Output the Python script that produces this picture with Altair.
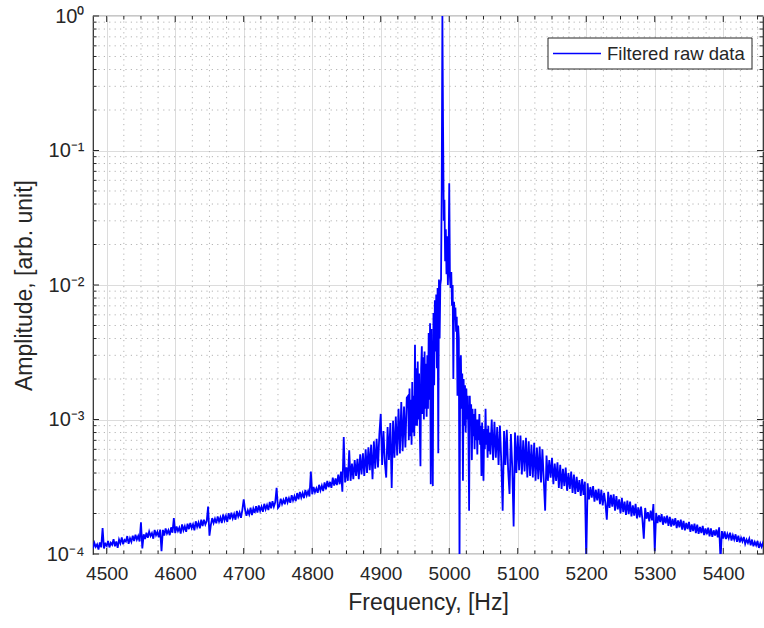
import altair as alt
import pandas as pd

# ---------------- data (amplitudes in units of 1e-4) ----------
UNIT = 1e-4

# segment A: 4480 .. 4938 Hz, every 2 Hz (left tail)
F_A = list(range(4480, 4939, 2))
AMP_A = [1.10, 1.21, 1.13, 1.18, 1.08, 1.22, 1.12, 1.56, 1.10, 1.19,
         1.15, 1.25, 1.12, 1.21, 1.17, 1.29, 1.14, 1.24, 1.11, 1.28,
         1.20, 1.33, 1.18, 1.27, 1.24, 1.36, 1.19, 1.31, 1.23, 1.37,
         1.25, 1.39, 1.28, 1.36, 1.24, 1.72, 1.10, 1.40, 1.29, 1.44,
         1.32, 1.47, 1.36, 1.43, 1.30, 1.51, 1.38, 1.46, 1.33, 1.52,
         1.05, 1.51, 1.37, 1.55, 1.42, 1.50, 1.38, 1.58, 1.44, 1.85,
         1.43, 1.60, 1.48, 1.57, 1.42, 1.66, 1.50, 1.61, 1.46, 1.68,
         1.53, 1.70, 1.56, 1.66, 1.50, 1.75, 1.59, 1.71, 1.55, 1.80,
         1.61, 1.80, 1.66, 1.76, 2.25, 1.37, 1.64, 1.85, 1.70, 1.83,
         1.69, 1.90, 1.74, 1.87, 1.70, 1.97, 1.78, 1.92, 1.73, 2.01,
         1.81, 2.03, 1.84, 1.98, 1.80, 2.09, 1.90, 2.04, 1.86, 2.13,
         2.55, 2.14, 1.92, 2.11, 1.97, 2.21, 1.95, 2.18, 2.02, 2.27,
         2.03, 2.30, 2.09, 2.25, 2.06, 2.36, 2.15, 2.31, 2.12, 2.44,
         2.19, 2.47, 2.25, 2.42, 3.10, 2.20, 2.27, 2.58, 2.35, 2.52,
         2.34, 2.66, 2.42, 2.60, 2.40, 2.74, 2.50, 2.69, 2.47, 2.84,
         2.55, 2.89, 2.63, 2.84, 2.60, 2.99, 2.72, 2.93, 2.68, 4.10,
         2.78, 3.15, 2.88, 3.08, 2.85, 3.27, 2.97, 3.22, 2.94, 3.40,
         3.03, 3.50, 3.14, 3.44, 3.10, 3.70, 3.22, 3.64, 3.25, 3.90,
         3.30, 4.10, 2.90, 7.40, 3.40, 4.40, 3.50, 5.90, 3.50, 4.70,
         3.60, 5.00, 3.80, 5.10, 3.60, 5.50, 3.90, 5.60, 3.80, 6.00,
         4.00, 6.20, 4.20, 6.50, 3.60, 6.90, 4.30, 7.20, 4.40, 7.80,
         11.0, 4.60, 8.20, 4.80, 3.70, 8.80, 5.00, 9.40, 3.10, 9.80,
         5.20, 10.5, 5.40, 12.0, 5.60, 13.5, 5.80, 12.5, 6.20, 14.5]

# segment B: 4940 .. 5060 Hz, every 1 Hz (resonance)
F_B = list(range(4940, 5061, 1))
AMP_B = [15, 7, 17, 7.5, 14, 6.5, 19, 8, 15, 7.5,
         36, 9, 24, 9, 27, 10, 22, 8.5, 4.5, 24,
         35, 11, 29, 10, 32, 12, 26, 10.5, 30, 12,
         44, 14, 52, 3.3, 47, 15, 3.2, 62, 18, 77,
         32, 85, 24, 95, 5.6, 110, 40, 100,
         110, 500, 10000, 1500, 300, 430, 150, 260, 120, 230, 100, 160,
         570, 115, 95, 125, 70, 100, 20, 75, 55, 68,
         45, 58, 15, 50, 40, 0.8, 25, 30, 12, 22,
         3.5, 20, 9, 18, 8, 17, 10, 15, 8, 2.1,
         15, 9, 13, 5, 12, 7.5, 11, 6, 12, 7,
         10, 5.5, 10, 7, 11, 6.5, 9, 3.8, 9.5, 6,
         3.5, 8.5, 6, 12, 6.5, 8.5, 5.2, 9, 5.8, 8, 5.5]

# segment C: 5062 .. 5460 Hz, every 2 Hz (right tail)
F_C = list(range(5062, 5461, 2))
AMP_C = [10.0, 5.0, 9.6, 5.2, 8.8, 4.6, 9.0, 4.8, 2.1, 8.2,
         4.6, 8.4, 4.2, 2.8, 7.8, 4.4, 1.6, 8.0, 4.0, 7.6,
         4.2, 7.6, 3.9, 7.0, 4.1, 7.3, 3.7, 6.9, 3.8, 6.5,
         3.7, 6.7, 3.5, 6.2, 3.6, 6.3, 3.4, 6.0, 3.5, 2.1,
         5.4, 3.5, 5.0, 3.7, 5.2, 3.3, 4.7, 3.5, 4.8, 3.1,
         4.6, 3.05, 4.3, 3.2, 4.4, 2.95, 4.0, 3.05, 4.1, 2.85,
         3.9, 2.8, 3.75, 2.9, 3.55, 2.7, 3.6, 2.75, 3.45, 0.9,
         3.35, 2.55, 3.15, 2.62, 3.2, 2.45, 3.0, 2.5, 3.05, 2.35,
         3.0, 2.3, 2.85, 2.38, 1.8, 2.9, 2.2, 2.75, 2.25, 2.78,
         2.1, 2.7, 2.15, 2.55, 2.0, 2.62, 2.05, 2.45, 1.95, 2.5,
         1.98, 2.45, 1.9, 2.3, 1.93, 2.36, 1.84, 2.22, 1.87, 2.25,
         1.8, 1.3, 2.2, 1.83, 2.05, 1.75, 2.1, 1.78, 2.35, 1.05,
         2.02, 1.7, 1.94, 1.73, 1.98, 1.65, 1.9, 1.69, 1.93, 1.62,
         1.89, 1.6, 1.82, 1.63, 1.85, 1.56, 1.78, 1.58, 1.8, 1.52,
         1.76, 1.5, 1.7, 1.53, 1.73, 1.46, 1.66, 1.48, 1.68, 1.43,
         1.65, 1.41, 1.59, 1.43, 1.62, 1.38, 1.55, 1.4, 1.57, 1.35,
         1.55, 1.34, 1.5, 1.37, 1.52, 1.33, 1.58, 0.9, 1.48, 1.3,
         1.47, 1.29, 1.41, 1.31, 1.44, 1.26, 1.38, 1.28, 1.4, 1.23,
         1.37, 1.22, 1.32, 1.24, 1.34, 1.19, 1.28, 1.21, 1.3, 1.16,
         1.28, 1.14, 1.23, 1.16, 1.25, 1.11, 1.2, 1.13, 1.21, 1.09]

SERIES = "Filtered raw data"

# axis ticks
X_MAJOR = [4500, 4600, 4700, 4800, 4900, 5000, 5100, 5200, 5300, 5400]
X_MINOR = [4525, 4550, 4575, 4625, 4650, 4675, 4725, 4750, 4775, 4825, 4850, 4875,
           4925, 4950, 4975, 5025, 5050, 5075, 5125, 5150, 5175, 5225, 5250, 5275,
           5325, 5350, 5375, 5425, 5450]
Y_MAJOR = [1e-4, 1e-3, 1e-2, 1e-1, 1.0]
Y_MINOR = [2e-4, 3e-4, 4e-4, 5e-4, 6e-4, 7e-4, 8e-4, 9e-4,
           2e-3, 3e-3, 4e-3, 5e-3, 6e-3, 7e-3, 8e-3, 9e-3,
           2e-2, 3e-2, 4e-2, 5e-2, 6e-2, 7e-2, 8e-2, 9e-2,
           0.2, 0.3, 0.4, 0.5, 0.6, 0.7, 0.8, 0.9]

# ---------------- layout ----------------
W, H = 670, 538
X_DOMAIN = [4480, 5458]
FONT = "Liberation Sans"
TXT = "#262626"

df = pd.DataFrame({
    "f": F_A + F_B + F_C,
    "amp": [v * UNIT for v in AMP_A + AMP_B + AMP_C],
})
df["series"] = SERIES

xscale = alt.Scale(domain=X_DOMAIN, nice=False, zero=False)
yscale = alt.Scale(type="log", domain=[1e-4, 1.0], nice=False)

xaxis = alt.Axis(values=X_MAJOR, format="d", grid=True, gridColor="#dcdcdc", gridWidth=1,
                 ticks=False, domain=False, labelFont=FONT, labelFontSize=19,
                 labelColor=TXT, labelPadding=10, title="Frequency, [Hz]",
                 titleFont=FONT, titleFontSize=23, titleFontWeight="normal",
                 titleColor=TXT, titlePadding=8)
label_expr = ("datum.value >= 0.5 ? '10\u2070' : datum.value >= 0.05 ? '10\u207b\u00b9' : "
              "datum.value >= 0.005 ? '10\u207b\u00b2' : datum.value >= 0.0005 ? '10\u207b\u00b3' : '10\u207b\u2074'")
yaxis = alt.Axis(values=Y_MAJOR, labelExpr=label_expr, grid=True, gridColor="#dcdcdc",
                 gridWidth=1, ticks=False, domain=False, labelFont=FONT, labelFontSize=20,
                 labelColor=TXT, labelPadding=9, title="Amplitude, [arb. unit]",
                 titleFont=FONT, titleFontSize=23, titleFontWeight="normal",
                 titleColor=TXT, titlePadding=10)

X = lambda field: alt.X(field, scale=xscale, axis=xaxis)
Y = lambda field: alt.Y(field, scale=yscale, axis=yaxis)

DOT = dict(color="#b4b4b4", strokeDash=[1.2, 4.2], strokeWidth=1)

xminor_df = pd.DataFrame({"f": X_MINOR})
yminor_df = pd.DataFrame({"amp": Y_MINOR})
xmajor_df = pd.DataFrame({"f": X_MAJOR})
ymajor_df = pd.DataFrame({"amp": Y_MAJOR})

grid_v = alt.Chart(xminor_df).mark_rule(**DOT).encode(
    x=X("f:Q"), y=alt.value(0), y2=alt.value(H))
grid_h = alt.Chart(yminor_df).mark_rule(**DOT).encode(
    y=Y("amp:Q"), x=alt.value(0), x2=alt.value(W))

line = alt.Chart(df).mark_line(clip=True, strokeWidth=1.8).encode(
    x=X("f:Q"), y=Y("amp:Q"),
    color=alt.Color("series:N", scale=alt.Scale(domain=[SERIES], range=["#0000ff"]),
                    legend=None),
    order="f:Q",
)

TK = dict(color=TXT, strokeWidth=1)
tick_layers = []
for dfx, ln in ((xmajor_df, 6), (xminor_df, 3.5)):
    tick_layers.append(alt.Chart(dfx).mark_rule(**TK).encode(
        x=X("f:Q"), y=alt.value(H), y2=alt.value(H - ln)))
    tick_layers.append(alt.Chart(dfx).mark_rule(**TK).encode(
        x=X("f:Q"), y=alt.value(0), y2=alt.value(ln)))
for dfy, ln in ((ymajor_df, 6), (yminor_df, 3.5)):
    tick_layers.append(alt.Chart(dfy).mark_rule(**TK).encode(
        y=Y("amp:Q"), x=alt.value(0), x2=alt.value(ln)))
    tick_layers.append(alt.Chart(dfy).mark_rule(**TK).encode(
        y=Y("amp:Q"), x=alt.value(W - ln), x2=alt.value(W)))

# legend box (top right, inside the plot)
leg_df = pd.DataFrame({"label": [SERIES]})
leg_box = alt.Chart(leg_df).mark_rect(fill="white", stroke=TXT, strokeWidth=1).encode(
    x=alt.value(455), x2=alt.value(659), y=alt.value(22), y2=alt.value(53))
leg_line = alt.Chart(leg_df).mark_rule(color="#0000ff", strokeWidth=1.3).encode(
    x=alt.value(460), x2=alt.value(508), y=alt.value(37.5))
leg_text = alt.Chart(leg_df).mark_text(align="left", baseline="middle", font=FONT,
                                       fontSize=18.5, color=TXT).encode(
    x=alt.value(514), y=alt.value(38), text="label:N")

chart = alt.layer(grid_v, grid_h, line, *tick_layers, leg_box, leg_line, leg_text).properties(
    width=W, height=H,
    padding={"left": 93, "top": 16, "right": 1, "bottom": 74},
    autosize=alt.AutoSizeParams(type="none"),
    background="white",
).configure_view(stroke=TXT, strokeWidth=1.2)

chart.save("out.html", embed_options={"renderer": "svg", "actions": False})
